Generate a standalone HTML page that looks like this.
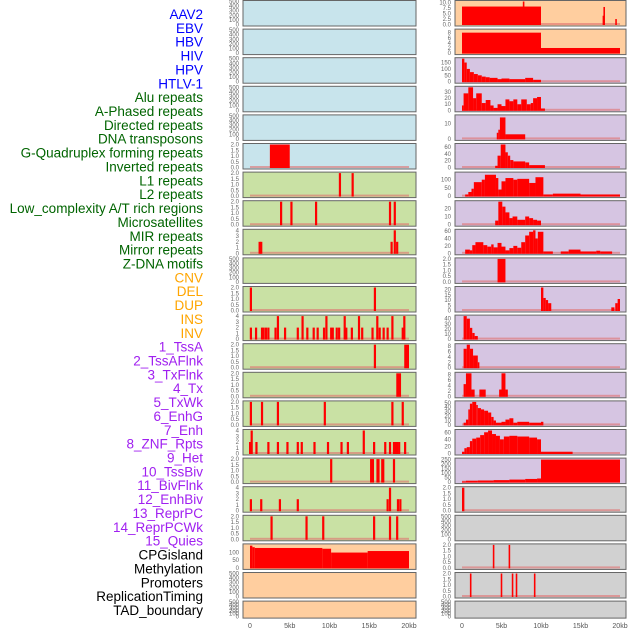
<!DOCTYPE html>
<html><head><meta charset="utf-8"><style>
body{margin:0;background:#fff;width:630px;height:630px;overflow:hidden}
svg{display:block;font-family:"Liberation Sans",sans-serif}
</style></head><body>
<svg id="chart" width="630" height="630"></svg>
<script>
const labels=["AAV2","EBV","HBV","HIV","HPV","HTLV-1","Alu repeats","A-Phased repeats","Directed repeats","DNA transposons","G-Quadruplex forming repeats","Inverted repeats","L1 repeats","L2 repeats","Low_complexity A/T rich regions","Microsatellites","MIR repeats","Mirror repeats","Z-DNA motifs","CNV","DEL","DUP","INS","INV","1_TssA","2_TssAFlnk","3_TxFlnk","4_Tx","5_TxWk","6_EnhG","7_Enh","8_ZNF_Rpts","9_Het","10_TssBiv","11_BivFlnk","12_EnhBiv","13_ReprPC","14_ReprPCWk","15_Quies","CPGisland","Methylation","Promoters","ReplicationTiming","TAD_boundary"];
const labelGroups=[6,13,5,15,5];
const xTicks=[0,5,10,15,20];
const xTickLabels=["0","5kb","10kb","15kb","20kb"];
const T500=[0,100,200,300,400,500],T2=[0,0.5,1,1.5,2],T4=[0,1,2,3,4];
const leftBg=["b","b","b","b","b","b","g","g","g","g","g","g","g","g","g","g","g","g","g","o","o","o"];
const leftTicks=[T500,T500,T500,T500,T500,T2,T2,T2,T4,T500,T2,T4,T2,T2,T2,T4,T2,T4,T2,[0,50,100],T500,T500];
const leftMax=[500,500,500,500,500,2,2,2,4,500,2,4,2,2,2,4,2,4,2,150,500,500];
const leftSpikes=[[],[],[],[],[],[],
[[11.3,2],[12.9,2]],
[[3.9,2],[5.2,2],[8.3,2],[17.6,2],[18.2,2]],
[[1.2,2],[1.4,2],[17.8,2],[18.2,4],[18.5,2]],
[],
[[0.1,2],[15.7,2]],
[[0.1,2],[0.75,2],[1.5,2],[1.7,2],[2,2],[2.3,2],[3.2,2],[3.5,4],[4.4,2],[6,2],[6.6,4],[7.2,2],[8,2],[8.5,2],[9.3,2],[9.6,4],[10.2,2],[10.4,2],[10.9,2],[11.2,2],[11.9,4],[12.1,2],[12.8,2],[13.7,4],[14.1,2],[15.4,2],[16,4],[16.3,2],[16.8,2],[17.3,2],[17.9,4],[19.2,2],[19.4,4]],
[[15.7,2]],
[],
[[0.1,2],[1.5,2],[3.5,2],[9.4,2],[17.9,2],[19.2,2]],
[[0,2],[0.2,4],[0.8,2],[2.3,2],[3.5,2],[4.7,2],[6,2],[6.5,2],[8.1,2],[9.8,2],[11.5,2],[12.3,2],[14.3,4],[15.6,2],[17,2],[17.6,2],[18.1,2],[18.3,2],[18.5,2],[18.75,2],[19.5,2]],
[[10.2,2],[18.1,2]],
[[0.1,2],[1.4,2],[3.75,2],[6,2],[17.3,2],[17.6,4],[18.6,2],[18.9,2]],
[[2.7,2],[7.1,2],[9.2,2],[15.6,2],[17.6,2],[18.5,2]],
[],[],[]];
const leftSegs=[[],[],[],[],[],[[2.5,5,2]],[],[],[],[],[],[],[[19.4,20,2]],[[18.4,19,2]],[],[],
[[15.1,15.6,2],[15.9,16.3,2],[16.5,16.9,2]],[],[],
[[0,0.3,145],[0.3,0.6,135],[0.6,9.1,130],[9.1,10.2,125],[10.2,14.8,100],[14.8,20,110]],[],[]];
const rightBg=["o","o","p","p","p","p","p","p","p","p","p","p","p","p","p","p","p","y","y","y","y","y"];
const rightTicks=[[0,2.5,5,7.5,10],[0,2,4,6,8],[0,50,100,150],[0,10,20,30],[0,10],[0,20,40,60],[0,50,100],[0,10,20],[0,20,40,60],T2,[0,5,10,15,20],[0,10,20,30,40],[0,2,4,6,8],[0,2,4,6,8],[0,10,20,30,40,50],[0,20,40,60],[0,50,100,150,200,250],T2,T500,T2,T2,T500];
const rightMax=[10.5,9,180,38,15,68,140,28,62,2,22,45,8.5,8.5,52,65,255,2,500,2,2,500];
const rightSegs=[
[[0,10,8.2],[7.7,7.9,10.5],[17.8,17.9,4],[17.9,18.1,8],[19.4,19.6,2.5]],
[[0,10,8],[10,20,2]],
[[0,0.3,180],[0.3,0.6,150],[0.6,1,100],[1,1.5,75],[1.5,2,60],[2,2.5,50],[2.5,3,40],[3,3.5,35],[3.5,4.5,30],[4.5,5,20],[5,6,25],[6,8,20],[8,9,30],[9,10,15]],
[[0,0.2,8],[0.2,0.8,28],[0.8,1.4,38],[1.4,1.8,20],[1.8,2.5,28],[2.5,3,12],[3,3.6,17],[3.6,4,8],[4,4.5,4],[4.5,5,10],[5,5.5,7],[5.5,6,18],[6,6.5,15],[6.5,7,18],[7,7.5,10],[7.5,8.2,18],[8.2,8.7,10],[8.7,9,12],[9,9.5,20],[9.5,10,22],[10,10.5,3]],
[[4.4,4.6,4],[4.6,4.8,6],[4.8,5.5,14],[5.5,8,3]],
[[4.2,4.5,5],[4.5,4.9,35],[4.9,5.5,68],[5.5,5.8,45],[5.8,6.1,35],[6.1,6.5,22],[6.5,8,18],[8,8.5,15],[8.5,10.5,7]],
[[0.4,0.8,10],[0.8,1.2,25],[1.2,1.5,45],[1.5,2.5,85],[2.5,2.9,100],[2.9,4.3,130],[4.3,4.6,110],[4.6,5,40],[5,5.5,90],[5.5,6.5,110],[6.5,7,100],[7,8.5,105],[8.5,9.3,80],[9.3,10.3,115],[10.3,11.5,10],[11.5,15,15],[15,20,10]],
[[4.2,4.6,5],[4.6,5.1,28],[5.1,5.5,22],[5.5,6,15],[6,6.4,8],[6.4,7,10],[7,8,6],[8,8.5,10],[8.5,9,8],[9,9.5,6],[9.5,10,5]],
[[0.4,1,10],[1,1.3,8],[1.3,1.7,22],[1.7,2.7,30],[2.7,3.2,22],[3.2,3.7,18],[3.7,4,24],[4,4.5,16],[4.5,5,28],[5,5.5,18],[5.5,6,8],[6,6.5,14],[6.5,7,20],[7,7.5,15],[7.5,8,30],[8,8.5,48],[8.5,9,58],[9,9.3,62],[9.3,9.6,40],[9.6,10.3,58],[10.3,11.5,5],[12.5,13.5,5],[13.5,15,10],[15,17,5],[17,17.5,7],[17.5,19,5]],
[[4.5,5.5,2]],
[[10,10.3,22],[10.3,10.6,12],[10.6,10.9,10],[10.9,11.3,7],[18.9,19.3,3],[19.4,19.7,7],[19.7,20,11]],
[[0.2,0.6,45],[0.6,1,40],[1,1.3,22],[1.3,1.6,12],[1.6,2,6]],
[[0.2,0.6,7],[0.6,1,8.5],[1,1.4,7],[1.4,2,4.5],[2,2.2,2]],
[[0.2,0.5,4.5],[0.5,1.2,8.5],[1.2,1.6,2.5],[2.2,3,2.5],[4.7,5,2.5],[5,5.5,8.5],[5.5,5.8,2.5]],
[[0.2,0.5,5],[0.5,0.8,12],[0.8,1,35],[1,1.3,48],[1.3,1.8,52],[1.8,2,45],[2,2.4,38],[2.4,2.8,35],[2.8,3.3,32],[3.3,3.7,28],[3.7,4,18],[4,4.3,10],[4.3,5,5],[5,5.5,7],[5.5,6,12],[6,6.5,15],[6.5,7,5],[7,8.5,7],[8.5,10,5],[10,10.3,7]],
[[0,0.3,5],[0.3,0.6,15],[0.6,1,18],[1,1.3,35],[1.3,1.8,42],[1.8,2.3,45],[2.3,2.8,52],[2.8,3.3,60],[3.3,3.8,65],[3.8,4.3,55],[4.3,4.8,50],[4.8,5.3,40],[5.3,6,48],[6,7,50],[7,8.5,48],[8.5,9.5,45],[9.5,10,40],[10,14,5]],
[[0,0.5,8],[0.5,2,15],[2,4,18],[4,6,22],[6,8,28],[8,9.5,35],[9.5,10,40],[10,20,250]],
[[0,0.3,2]],[],
[[3.9,4.1,2],[5.9,6.1,2]],
[[1,1.2,2],[4.9,5.1,2],[6.3,6.5,2],[6.8,7,2],[9.1,9.3,2]],[]];

const COLORS={b:"#c8e4ec",g:"#c9e1a4",o:"#ffce9f",p:"#d6c5e2",y:"#d1d1d1"};
const NS="http://www.w3.org/2000/svg";
const svg=document.getElementById('chart');
function el(tag,attrs,parent){const e=document.createElementNS(NS,tag);for(const k in attrs)e.setAttribute(k,attrs[k]);(parent||svg).appendChild(e);return e;}
const rowTop=i=>0.5+i*28.6;
const rowH=i=>i===21?17:25.5;
const cols=[{x0:243,x1:416,z:250,w:159},{x0:455,x1:626,z:462,w:158}];
function xs(c,kb){return cols[c].z+kb/20*cols[c].w;}
function ys(i,v,max){const b=rowTop(i)+rowH(i)-1.5;return b-Math.min(v,max*1.05)/max*(rowH(i)-2.5);}
function fmt(ticks,v){return ticks.some(t=>t%1!==0)?v.toFixed(1):String(v);}
const labColors=["#0000ff","#006400","#ffa500","#a020f0","#000000"];
let li=0;
labelGroups.forEach((n,g)=>{for(let k=0;k<n;k++){const t=el('text',{x:203,y:19+li*13.86,'text-anchor':'end','font-size':13.5,fill:labColors[g]});


t.textContent=labels[li];li++;}});
function panel(c,i,bg,ticks,max,segs,spikes){
  const g=el('g',{});
  
  
  const t=rowTop(i),h=rowH(i);
  el('rect',{x:cols[c].x0,y:t,width:cols[c].x1-cols[c].x0,height:h,fill:COLORS[bg],stroke:"#666",'stroke-width':1},g);
  ticks.forEach(v=>{const tt=el('text',{x:cols[c].x0-4,y:ys(i,v,max)+2,'text-anchor':'end','font-size':6,fill:"#666"},g);
    
    
    tt.textContent=fmt(ticks,v);});
  const has=segs.length>0||(spikes&&spikes.length>0);
  if(has) el('rect',{x:xs(c,0),y:ys(i,0,max)-1.5,width:cols[c].w,height:2,fill:"#e07070",opacity:0.6},g);
  segs.forEach(s=>{const x=xs(c,s[0]),w=Math.max(1.5,xs(c,s[1])-x),y=ys(i,s[2],max);
    const r=el('rect',{x:x,y:y,width:w,height:ys(i,0,max)-y+0.5,fill:"#ff0000"},g);
    
    });
  (spikes||[]).forEach(s=>{const x=xs(c,s[0]),y=ys(i,s[1],max);
    const r=el('rect',{x:x-1,y:y,width:2.2,height:ys(i,0,max)-y+0.5,fill:"#ff0000"},g);
    
    });
}
for(let i=0;i<22;i++){
  panel(0,i,leftBg[i],leftTicks[i],leftMax[i],leftSegs[i],leftSpikes[i]);
  panel(1,i,rightBg[i],rightTicks[i],rightMax[i],rightSegs[i],[]);
}
[0,1].forEach(c=>xTicks.forEach((v,k)=>{const t=el('text',{x:xs(c,v),y:628,'text-anchor':'middle','font-size':7,fill:"#555"});
  
  
  t.textContent=xTickLabels[k];}));
</script>
</body></html>
